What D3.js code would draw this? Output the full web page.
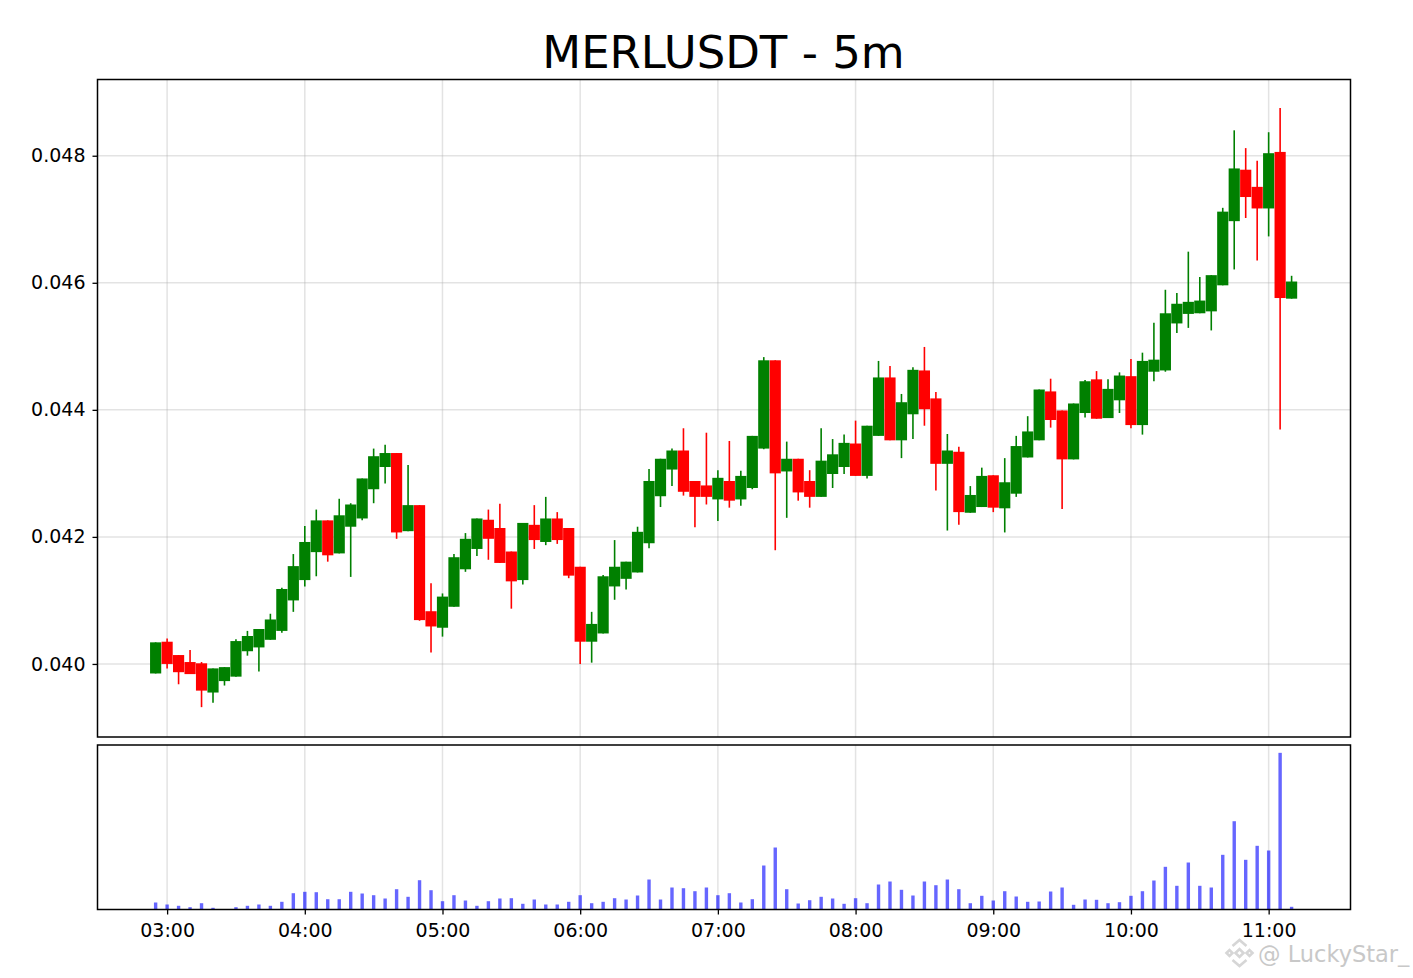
<!DOCTYPE html>
<html>
<head>
<meta charset="utf-8">
<script src="https://cdn.jsdelivr.net/npm/d3@7"></script>
<style>
    html, body { margin: 0; padding: 0; background: #fff; }
    svg { display: block; }
    text { font-family: "DejaVu Sans", sans-serif; fill: #000; }
</style>
</head>
<body>
<div id="chart"></div>
<script>
var title = 'MERLUSDT - 5m';
var watermark = '@ LuckyStar_';

// first candle time, candles are 5 minutes apart
var startTime = new Date(2025, 0, 1, 2, 55);
var hourTicks = ['03:00', '04:00', '05:00', '06:00', '07:00', '08:00', '09:00', '10:00', '11:00'];
var priceTicks = [0.040, 0.042, 0.044, 0.046, 0.048];
var priceRange = [0.03885, 0.04920];

var opens = [0.03985,0.04035,0.04014,0.04003,0.04001,0.03955,0.03973,0.03980,0.04020,0.04026,
    0.04038,0.04052,0.04100,0.04132,0.04176,0.04226,0.04174,0.04216,0.04229,0.04275,
    0.04310,0.04332,0.04209,0.04250,0.04083,0.04057,0.04090,0.04149,0.04181,0.04227,
    0.04214,0.04177,0.04132,0.04219,0.04192,0.04229,0.04214,0.04153,0.04035,0.04048,
    0.04122,0.04134,0.04144,0.04190,0.04264,0.04306,0.04336,0.04288,0.04281,0.04259,
    0.04288,0.04259,0.04277,0.04339,0.04478,0.04303,0.04323,0.04288,0.04263,0.04299,
    0.04310,0.04347,0.04296,0.04359,0.04451,0.04352,0.04393,0.04462,0.04418,0.04315,
    0.04334,0.04238,0.04247,0.04297,0.04245,0.04268,0.04325,0.04352,0.04429,0.04399,
    0.04322,0.04395,0.04448,0.04387,0.04415,0.04453,0.04376,0.04460,0.04462,0.04536,
    0.04551,0.04552,0.04555,0.04596,0.04697,0.04778,0.04751,0.04717,0.04806,0.04575];

var highs = [0.04034,0.04040,0.04014,0.04022,0.04003,0.03993,0.03995,0.04039,0.04052,0.04055,
    0.04079,0.04120,0.04173,0.04217,0.04243,0.04226,0.04260,0.04253,0.04292,0.04339,
    0.04345,0.04332,0.04313,0.04250,0.04127,0.04111,0.04173,0.04206,0.04229,0.04243,
    0.04252,0.04177,0.04222,0.04250,0.04263,0.04239,0.04214,0.04153,0.04082,0.04140,
    0.04195,0.04161,0.04216,0.04307,0.04323,0.04339,0.04371,0.04288,0.04364,0.04305,
    0.04351,0.04304,0.04359,0.04483,0.04478,0.04350,0.04323,0.04305,0.04371,0.04354,
    0.04361,0.04383,0.04375,0.04477,0.04469,0.04425,0.04467,0.04499,0.04428,0.04362,
    0.04342,0.04280,0.04309,0.04297,0.04324,0.04359,0.04390,0.04432,0.04449,0.04399,
    0.04410,0.04447,0.04461,0.04448,0.04459,0.04480,0.04490,0.04537,0.04589,0.04584,
    0.04649,0.04609,0.04612,0.04718,0.04840,0.04812,0.04792,0.04837,0.04875,0.04611];

var lows = [0.03985,0.03993,0.03968,0.03984,0.03932,0.03939,0.03966,0.03980,0.04013,0.03988,
    0.04038,0.04049,0.04082,0.04122,0.04138,0.04161,0.04174,0.04137,0.04226,0.04253,
    0.04284,0.04197,0.04209,0.04068,0.04018,0.04043,0.04090,0.04145,0.04170,0.04164,
    0.04159,0.04087,0.04125,0.04181,0.04187,0.04189,0.04135,0.04000,0.04002,0.04048,
    0.04101,0.04117,0.04144,0.04182,0.04247,0.04280,0.04265,0.04215,0.04251,0.04225,
    0.04246,0.04249,0.04275,0.04338,0.04179,0.04230,0.04257,0.04246,0.04263,0.04277,
    0.04299,0.04296,0.04292,0.04359,0.04352,0.04324,0.04354,0.04375,0.04273,0.04210,
    0.04219,0.04238,0.04247,0.04239,0.04207,0.04263,0.04325,0.04352,0.04372,0.04244,
    0.04322,0.04388,0.04386,0.04387,0.04395,0.04371,0.04361,0.04445,0.04460,0.04521,
    0.04529,0.04552,0.04525,0.04596,0.04621,0.04702,0.04635,0.04673,0.04369,0.04575];

var closes = [0.04034,0.04000,0.03987,0.03984,0.03958,0.03993,0.03995,0.04036,0.04044,0.04055,
    0.04070,0.04118,0.04154,0.04192,0.04226,0.04171,0.04234,0.04251,0.04292,0.04327,
    0.04332,0.04207,0.04250,0.04069,0.04059,0.04106,0.04168,0.04197,0.04229,0.04197,
    0.04159,0.04130,0.04222,0.04195,0.04229,0.04195,0.04139,0.04035,0.04063,0.04138,
    0.04153,0.04161,0.04208,0.04288,0.04323,0.04336,0.04271,0.04263,0.04263,0.04293,
    0.04257,0.04296,0.04359,0.04478,0.04300,0.04323,0.04270,0.04263,0.04320,0.04330,
    0.04348,0.04296,0.04375,0.04451,0.04352,0.04412,0.04463,0.04401,0.04315,0.04336,
    0.04239,0.04266,0.04296,0.04246,0.04286,0.04343,0.04366,0.04432,0.04384,0.04322,
    0.04410,0.04445,0.04386,0.04433,0.04454,0.04376,0.04477,0.04479,0.04552,0.04567,
    0.04570,0.04572,0.04612,0.04712,0.04780,0.04735,0.04717,0.04804,0.04576,0.04602];

// volume has no axis labels, values are in arbitrary units read off the bar heights
var volumes = [7,5,3.7,2.3,6.3,1.7,0.3,2.3,3.7,5,
    3.7,7.7,16.3,17.7,17.3,10.3,10.3,17.7,16,14.3,
    11,20.3,12.7,29.3,19.3,8.3,14.3,9,3.7,8.3,
    11,11.3,5.7,10,5,5,7.7,14.3,6.3,7.7,
    11.3,10,14,30,10,22,21.3,18.3,22,14.3,
    16.3,7,10.3,44,62,20.3,6,9.3,12.7,11,
    5.7,11.3,6.3,25,28,19.7,14,28,24.3,30,
    20.3,6.3,13.7,9,18.3,13,7.7,8,18,22,
    4.7,10,9.7,6.3,7.3,13.7,18.3,29,42.7,23.7,
    47,23.7,22,54.7,88.3,49.7,63.7,59,156.7,2.7];

function candleTime(i){
    return d3.timeMinute.offset(startTime, 5 * i);
}

function hourToDate(label){
    var parts = label.split(':');
    return new Date(2025, 0, 1, +parts[0], +parts[1]);
}

function drawChart(){
    var width = 1413,
        height = 978;

    var left = 97.5,
        right = 1350.5,
        mainTop = 79.5,
        mainBottom = 737,
        volTop = 745,
        volBottom = 909.5;

    var svg = d3.select('#chart').append('svg')
        .attr('width', width)
        .attr('height', height);

    var x = d3.scaleTime()
        .domain([new Date(2025, 0, 1, 2, 29, 40), new Date(2025, 0, 1, 11, 35, 40)])
        .range([left, right]);

    var y = d3.scaleLinear()
        .domain(priceRange)
        .range([mainBottom, mainTop]);

    var yVol = d3.scaleLinear()
        .domain([0, d3.max(volumes) * 1.05])
        .range([volBottom, volTop]);

    var hours = hourTicks.map(hourToDate);
    var candleWidth = x(candleTime(1)) - x(candleTime(0)) - 0.3;

    // grid
    var grid = svg.append('g')
        .attr('stroke', '#b0b0b0')
        .attr('stroke-opacity', 0.35)
        .attr('stroke-width', 1.5);

    grid.selectAll('.gridMain').data(hours).enter().append('line')
        .attr('x1', x).attr('x2', x)
        .attr('y1', mainTop).attr('y2', mainBottom);

    grid.selectAll('.gridVol').data(hours).enter().append('line')
        .attr('x1', x).attr('x2', x)
        .attr('y1', volTop).attr('y2', volBottom);

    grid.selectAll('.gridPrice').data(priceTicks).enter().append('line')
        .attr('x1', left).attr('x2', right)
        .attr('y1', y).attr('y2', y);

    // candles
    var idx = d3.range(closes.length);

    function candleColor(i){
        return closes[i] >= opens[i] ? 'green' : 'red';
    }

    svg.append('g').selectAll('line').data(idx).enter().append('line')
        .attr('x1', function(i){ return x(candleTime(i)); })
        .attr('x2', function(i){ return x(candleTime(i)); })
        .attr('y1', function(i){ return y(highs[i]); })
        .attr('y2', function(i){ return y(lows[i]); })
        .attr('stroke', candleColor)
        .attr('stroke-width', 1.6);

    svg.append('g').selectAll('rect').data(idx).enter().append('rect')
        .attr('x', function(i){ return x(candleTime(i)) - candleWidth / 2; })
        .attr('width', candleWidth)
        .attr('y', function(i){ return y(Math.max(opens[i], closes[i])); })
        .attr('height', function(i){ return Math.abs(y(opens[i]) - y(closes[i])); })
        .attr('fill', candleColor);

    // volume
    svg.append('g').selectAll('rect').data(idx).enter().append('rect')
        .attr('x', function(i){ return x(candleTime(i)) - 1.7; })
        .attr('width', 3.4)
        .attr('y', function(i){ return yVol(volumes[i]); })
        .attr('height', function(i){ return volBottom - yVol(volumes[i]); })
        .attr('fill', 'blue')
        .attr('fill-opacity', 0.6);

    // axes
    var yAxis = d3.axisLeft(y)
        .tickValues(priceTicks)
        .tickFormat(d3.format('.3f'))
        .tickSize(5)
        .tickPadding(7);

    var xAxis = d3.axisBottom(x)
        .tickValues(hours)
        .tickFormat(d3.timeFormat('%H:%M'))
        .tickSize(5)
        .tickPadding(9.5);

    var yG = svg.append('g')
        .attr('transform', 'translate(' + left + ',0)')
        .call(yAxis);

    var xG = svg.append('g')
        .attr('transform', 'translate(0,' + volBottom + ')')
        .call(xAxis);

    [yG, xG].forEach(function(g){
        g.select('.domain').remove();
        g.selectAll('.tick line').attr('stroke', '#000').attr('stroke-width', 1.3);
        g.selectAll('text')
            .style('font-family', '"DejaVu Sans", sans-serif')
            .style('font-size', '19px')
            .attr('fill', '#000');
    });

    // axes frames
    svg.append('rect')
        .attr('x', left).attr('y', mainTop)
        .attr('width', right - left).attr('height', mainBottom - mainTop)
        .attr('fill', 'none').attr('stroke', '#000').attr('stroke-width', 1.5);

    svg.append('rect')
        .attr('x', left).attr('y', volTop)
        .attr('width', right - left).attr('height', volBottom - volTop)
        .attr('fill', 'none').attr('stroke', '#000').attr('stroke-width', 1.5);

    svg.append('text')
        .attr('x', (left + right) / 2 - 0.5)
        .attr('y', 68)
        .attr('text-anchor', 'middle')
        .style('font-size', '45px')
        .text(title);

    // watermark logo and name
    var logo = svg.append('g')
        .attr('transform', 'translate(1239.5,953)')
        .attr('fill', 'none')
        .attr('stroke', '#d6d6d6')
        .attr('stroke-width', 2.6);

    logo.append('path').attr('d', 'M-7,-7L0,-13L7,-7M-7,7L0,13L7,7');
    logo.append('path').attr('d', 'M-4,0L0,-4L4,0L0,4Z');
    logo.append('path').attr('d', 'M-13,0L-10,-3L-7,0L-10,3Z');
    logo.append('path').attr('d', 'M13,0L10,-3L7,0L10,3Z');

    svg.append('text')
        .attr('x', 1258)
        .attr('y', 962)
        .style('font-size', '22.5px')
        .style('fill', '#c8c8c8')
        .text(watermark);
}

drawChart();
</script>
</body>
</html>
